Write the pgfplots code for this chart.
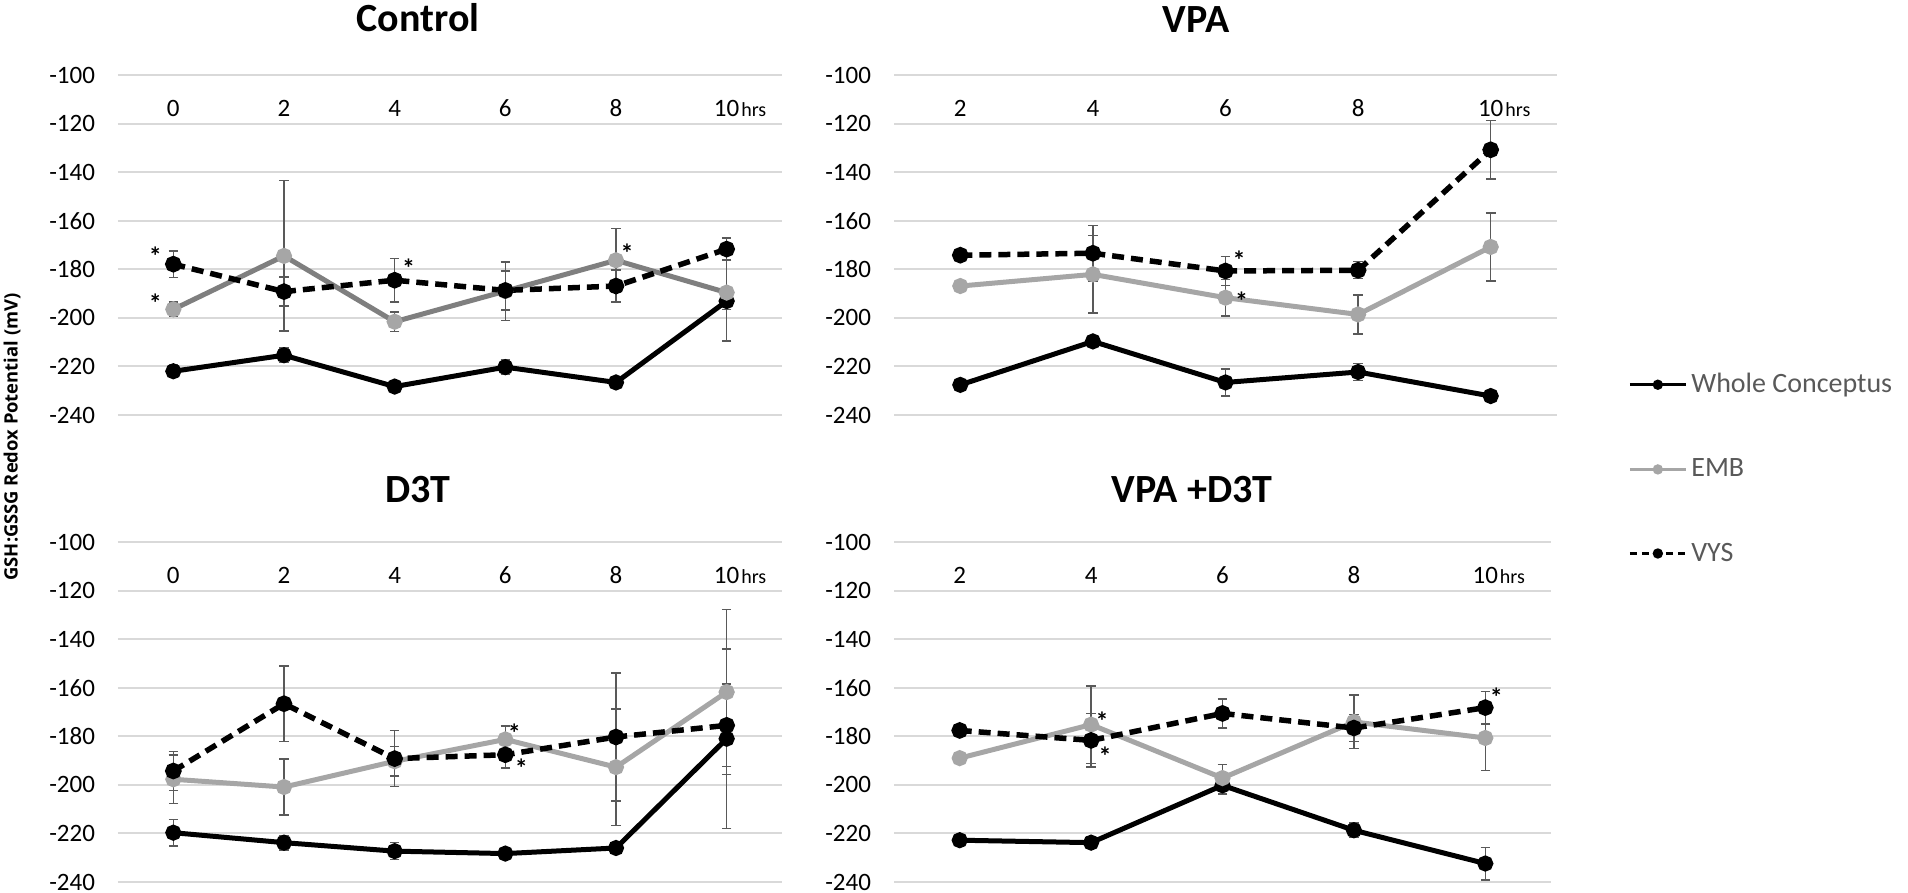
\documentclass[border=0pt]{standalone}
\usepackage{pgfplots}
\pgfplotsset{compat=1.18}
\usepackage{fontspec}
\setmainfont{Carlito}
\newfontfamily\labelfont{Open Sans}
\definecolor{embgray}{HTML}{A6A6A6}
\definecolor{embdark}{HTML}{7F7F7F}
\definecolor{errgray}{HTML}{595959}
\definecolor{gridgray}{HTML}{D9D9D9}
\definecolor{legtext}{HTML}{595959}

\pgfplotsset{
  panel/.style={
    scale only axis, anchor=south west,
    height=170pt,
    ymin=-240, ymax=-100,
    ytick={-240,-220,-200,-180,-160,-140,-120,-100},
    yticklabels={-240,-220,-200,-180,-160,-140,-120,-100},
    ymajorgrids, grid style={gridgray, line width=1pt},
    axis line style={draw=none},
    major tick length=0pt,
    xticklabel pos=upper,
    xticklabel style={anchor=center, yshift=-16.5pt, font=\fontsize{12.5}{14}\selectfont},
    yticklabel style={anchor=east, xshift=-8pt, font=\fontsize{12.5}{14}\selectfont},
    clip=false,
  },
  sixcat/.style={xmin=-1, xmax=11, xtick={0,2,4,6,8,10},
    xticklabels={0,2,4,6,8,{10\rlap{\hspace{1pt}\fontsize{10}{11}\selectfont hrs}}}},
  fivecat/.style={xmin=1, xmax=11, xtick={2,4,6,8,10},
    xticklabels={2,4,6,8,{10\rlap{\hspace{1pt}\fontsize{10}{11}\selectfont hrs}}}},
  errs/.style={error bars/.cd, y dir=both, y explicit,
    error bar style={errgray, line width=0.75pt, solid},
    error mark options={rotate=90, mark size=2.4pt, errgray, line width=0.75pt, solid}},
  whole/.style={black, line width=2.5pt, mark=*, mark size=2.75pt, mark options={solid, black}, errs},
  emb/.style={embgray, line width=2.5pt, mark=*, mark size=2.75pt, mark options={solid, embgray}, errs},
  embd/.style={embdark, line width=2.5pt, mark=*, mark size=2.75pt, mark options={solid, embgray}, errs},
  vys/.style={black, line width=2.75pt, dash pattern=on 6pt off 3.5pt, mark=*, mark size=2.75pt, mark options={solid, black}, errs},
}
\newcommand{\sig}[3]{\node[font=\bfseries\fontsize{13}{14}\selectfont, inner sep=0pt, xshift=#3, yshift=-2pt] at (axis cs:#1,#2) {*};}

\begin{document}
\begin{tikzpicture}
\useasboundingbox (0,0) rectangle (954pt,446.5pt);

% ---------------- Control
\begin{axis}[panel, sixcat, width=332pt, at={(59pt,239pt)}]
\addplot+[whole] table[x=x, y=y, y error=e] {
x y e
0 -222.0 2.5
2 -215.4 3
4 -228.3 0
6 -220.3 3
8 -226.6 0
10 -193.1 3.5
};
\addplot+[embd] table[x=x, y=y, y error=e] {
x y e
0 -196.5 3
2 -174.5 31
4 -201.6 4
6 -189.0 12
8 -176.3 13
10 -189.6 20
};
\addplot+[vys] table[x=x, y=y, y error=e] {
x y e
0 -177.9 5.5
2 -189.2 6
4 -184.5 9
6 -188.7 8
8 -186.9 6.5
10 -171.7 4.5
};
\sig{0}{-173}{-9pt}
\sig{0}{-192.4}{-9pt}
\sig{4}{-178}{7pt}
\sig{8}{-171.7}{5.5pt}
\end{axis}

% ---------------- VPA
\begin{axis}[panel, fivecat, width=331.5pt, at={(447pt,239pt)},
  legend style={draw=none, fill=none, at={(1.107,0.135)}, anchor=north west,
    font=\fontsize{14}{16}\selectfont\color{legtext}, row sep=27.5pt, inner sep=0pt,
    nodes={inner sep=2pt}},
  legend cell align=left,
  legend image code/.code={\draw[mark repeat=2, mark phase=2, #1] plot coordinates {(0pt,0pt) (14pt,0pt) (28pt,0pt)};}]
\addlegendimage{black, line width=1.5pt, mark=*, mark size=1.8pt, mark options={solid}}
\addlegendimage{embgray, line width=1.5pt, mark=*, mark size=1.8pt, mark options={solid}}
\addlegendimage{black, line width=1.5pt, dash pattern=on 3.5pt off 2.5pt, mark=*, mark size=1.8pt, mark options={solid}}
\addplot+[whole] table[x=x, y=y, y error=e] {
x y e
2 -227.6 0
4 -209.7 0
6 -226.6 5.5
8 -222.3 3.5
10 -232.2 1.5
};
\addplot+[emb] table[x=x, y=y, y error=e] {
x y e
2 -186.9 0
4 -182.1 16
6 -191.7 7.5
8 -198.6 8
10 -170.8 14
};
\addplot+[vys] table[x=x, y=y, y error=e] {
x y e
2 -174.2 0
4 -173.4 11.5
6 -180.7 6
8 -180.4 3.5
10 -130.8 12
};
\legend{Whole Conceptus, EMB, VYS}
\sig{6}{-174.8}{6.8pt}
\sig{6}{-191.5}{8pt}
\end{axis}

% ---------------- D3T
\begin{axis}[panel, sixcat, width=332pt, at={(59pt,5.5pt)}]
\addplot+[whole] table[x=x, y=y, y error=e] {
x y e
0 -219.7 5.5
2 -223.8 3
4 -227.3 3.5
6 -228.3 1
8 -226.0 0.5
10 -181.0 37
};
\addplot+[emb] table[x=x, y=y, y error=e] {
x y e
0 -197.7 10
2 -200.9 11.5
4 -190.3 6
6 -181.3 5.5
8 -192.7 24
10 -161.8 34
};
\addplot+[vys] table[x=x, y=y, y error=e] {
x y e
0 -194.3 8
2 -166.6 15.5
4 -189.2 11.5
6 -187.6 5.5
8 -180.3 26.4
10 -175.5 17
};
\sig{6}{-177.1}{4.5pt}
\sig{6}{-191.7}{8pt}
\end{axis}

% ---------------- VPA + D3T
\begin{axis}[panel, fivecat, width=328.5pt, at={(447pt,5.5pt)}]
\addplot+[whole] table[x=x, y=y, y error=e] {
x y e
2 -222.8 0.5
4 -223.8 2.5
6 -200.2 3.5
8 -218.7 3
10 -232.4 6.7
};
\addplot+[emb] table[x=x, y=y, y error=e] {
x y e
2 -189.0 0
4 -175.2 16
6 -197.2 5.5
8 -174.1 11
10 -180.7 13.4
};
\addplot+[vys] table[x=x, y=y, y error=e] {
x y e
2 -177.6 0
4 -181.7 11
6 -170.6 6
8 -176.6 5.5
10 -168.2 6.7
};
\sig{4}{-172.1}{5.5pt}
\sig{4}{-186.5}{7pt}
\sig{10}{-162.3}{5.5pt}
\end{axis}

% titles and shared label
\node[font=\bfseries\fontsize{20}{24}\selectfont] at (209pt,437.5pt) {Control};
\node[font=\bfseries\fontsize{20}{24}\selectfont] at (598pt,436.5pt) {VPA};
\node[font=\bfseries\fontsize{20}{24}\selectfont] at (209pt,201.5pt) {D3T};
\node[font=\bfseries\fontsize{20}{24}\selectfont] at (596pt,201.5pt) {VPA +D3T};
\node[rotate=90, font=\labelfont\bfseries\fontsize{9.2}{11}\selectfont] at (6pt,228pt) {GSH:GSSG Redox Potential (mV)};
\end{tikzpicture}
\end{document}
